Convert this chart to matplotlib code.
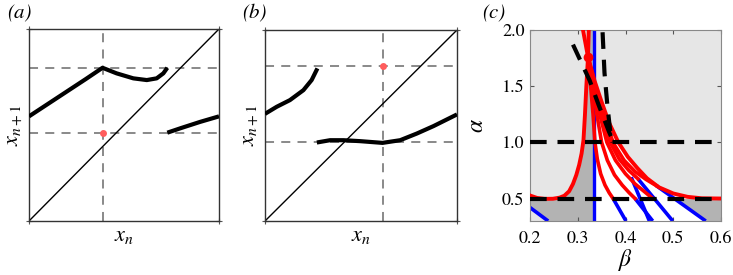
import numpy as np
import matplotlib
matplotlib.use("Agg")
import matplotlib.pyplot as plt

plt.rcParams['mathtext.fontset'] = 'stix'
plt.rcParams['font.family'] = ['STIXGeneral', 'Liberation Serif', 'DejaVu Serif']

# === panel (a): return map ===
a_branch1_x = [0.0, 0.1, 0.2, 0.3, 0.387, 0.461, 0.549, 0.62, 0.672, 0.707, 0.728]
a_branch1_y = [0.545, 0.61, 0.675, 0.74, 0.798, 0.769, 0.743, 0.734, 0.743, 0.769, 0.798]
a_branch2_x = [0.728, 0.8, 0.9, 1.0]
a_branch2_y = [0.46, 0.484, 0.516, 0.545]
a_vline = 0.387
a_hlines = [0.798, 0.46]
a_dot = (0.387, 0.46)

# === panel (b): return map ===
b_branch1_x = [0.0, 0.061, 0.13, 0.2, 0.243, 0.273]
b_branch1_y = [0.561, 0.598, 0.633, 0.685, 0.738, 0.799]
b_branch2_x = [0.27, 0.339, 0.409, 0.496, 0.612, 0.704, 0.791, 0.878, 1.0]
b_branch2_y = [0.411, 0.423, 0.423, 0.418, 0.409, 0.423, 0.458, 0.497, 0.558]
b_vline = 0.612
b_hlines = [0.811, 0.411]
b_dot = (0.612, 0.811)

# === panel (c): bifurcation diagram in (beta, alpha) ===
left_beta = [0.2, 0.215, 0.231, 0.248, 0.262, 0.272, 0.282, 0.29, 0.297, 0.303, 0.308, 0.312, 0.315, 0.318, 0.3215, 0.323]
left_alpha = [0.527, 0.505, 0.497, 0.498, 0.508, 0.525, 0.565, 0.63, 0.71, 0.80, 0.90, 1.02, 1.24, 1.5, 1.76, 2.0]

outer_beta = [0.311, 0.3215, 0.335, 0.35, 0.365, 0.385, 0.405, 0.425, 0.445, 0.47, 0.5, 0.53, 0.56, 0.6]
outer_alpha = [2.0, 1.76, 1.55, 1.36, 1.18, 1.0, 0.87, 0.77, 0.68, 0.6, 0.545, 0.515, 0.502, 0.50]

fan_beta = [
    [0.3215, 0.327, 0.332, 0.336, 0.341, 0.348, 0.357, 0.366, 0.374],
    [0.3215, 0.331, 0.34, 0.35, 0.362, 0.377, 0.393, 0.408, 0.42],
    [0.3215, 0.334, 0.346, 0.361, 0.379, 0.4, 0.42, 0.44, 0.457],
    [0.3215, 0.337, 0.352, 0.368, 0.387, 0.407, 0.426],
    [0.3215, 0.34, 0.357, 0.375, 0.397, 0.42, 0.443, 0.464],
]
fan_alpha = [
    [1.76, 1.5, 1.25, 1.0, 0.85, 0.72, 0.62, 0.55, 0.5],
    [1.76, 1.5, 1.25, 1.0, 0.84, 0.71, 0.62, 0.55, 0.5],
    [1.76, 1.5, 1.25, 1.0, 0.84, 0.72, 0.63, 0.56, 0.5],
    [1.76, 1.45, 1.22, 1.0, 0.85, 0.75, 0.676],
    [1.76, 1.45, 1.2, 0.99, 0.84, 0.74, 0.67, 0.616],
]

blue_beta = [[0.2, 0.238], [0.374, 0.401], [0.412, 0.45], [0.42, 0.457], [0.426, 0.499], [0.464, 0.568]]
blue_alpha = [[0.42, 0.3], [0.5, 0.3], [0.69, 0.3], [0.5, 0.3], [0.676, 0.3], [0.616, 0.3]]
beta_c = 1 / 3

dash1_beta = [0.29, 0.325, 0.344, 0.365, 0.375]
dash1_alpha = [1.87, 1.55, 1.33, 1.10, 1.0]
dash2_beta = [0.352, 0.356, 0.362, 0.368, 0.373]
dash2_alpha = [1.98, 1.62, 1.33, 1.1, 1.0]
alpha_levels = [1.0, 0.5]
cusp = (0.3215, 1.76)

fig = plt.figure(figsize=(7.33, 2.75), dpi=100)
W, H = 733, 275


def box(x0, y0, x1, y1):
    return [x0 / W, 1 - y1 / H, (x1 - x0) / W, (y1 - y0) / H]


def map_panel(ax, br1, br2, vline, hlines, dot):
    ax.plot([0, 1], [0, 1], color='black', lw=1.0, zorder=2)
    ax.axvline(vline, color='#808080', lw=1.3, dashes=(5, 4), zorder=1)
    for h in hlines:
        ax.axhline(h, color='#808080', lw=1.3, dashes=(5, 4), zorder=1)
    ax.plot(*br1, color='black', lw=3.0, solid_capstyle='butt', zorder=3)
    ax.plot(*br2, color='black', lw=3.0, solid_capstyle='butt', zorder=3)
    ax.plot(*dot, 'o', color='#ff5c5c', ms=5, mec='none', zorder=4)
    ax.set_xlim(0, 1)
    ax.set_ylim(0, 1)
    ax.set_xticks([0, 1])
    ax.set_yticks([0, 1])
    ax.tick_params(direction='inout', length=4, width=0.8, color='#555555',
                   labelbottom=False, labelleft=False, top=True, right=True)
    for s in ax.spines.values():
        s.set_color('#333333')
        s.set_linewidth(1.0)
    ax.set_xlabel(r'$x_n$', fontsize=16, labelpad=2)
    ax.set_ylabel(r'$x_{n+1}$', fontsize=16, labelpad=1)


ax_a = fig.add_axes(box(29, 29, 219, 221))
map_panel(ax_a, (a_branch1_x, a_branch1_y), (a_branch2_x, a_branch2_y), a_vline, a_hlines, a_dot)
ax_b = fig.add_axes(box(265, 30, 457, 221))
map_panel(ax_b, (b_branch1_x, b_branch1_y), (b_branch2_x, b_branch2_y), b_vline, b_hlines, b_dot)

# === panel (c) ===
ax = fig.add_axes(box(530, 30, 721, 221))
ax.set_facecolor('#e6e6e6')
dark = '#b3b3b3'

# dark region left of beta_c under the left red curve
poly_x = left_beta + [beta_c, beta_c, blue_beta[0][1], blue_beta[0][0]]
poly_y = left_alpha + [2.0, 0.3, blue_alpha[0][1], blue_alpha[0][0]]
ax.fill(poly_x, poly_y, color=dark, lw=0, zorder=1)

# white region under the outer red curve
ob = np.array(outer_beta)
oa = np.array(outer_alpha)
keep = ob >= beta_c
wx = [beta_c] + list(ob[keep]) + [0.6, beta_c]
wy = [float(np.interp(beta_c, ob, oa))] + list(oa[keep]) + [0.3, 0.3]
ax.fill(wx, wy, color='white', lw=0, zorder=1)

# dark region bottom right
e0b, e1b = blue_beta[-1]
e0a, e1a = blue_alpha[-1]
b_at_half = e0b + (e0a - 0.5) / (e0a - e1a) * (e1b - e0b)
ax.fill([b_at_half, 0.6, 0.6, e1b], [0.5, 0.5, 0.3, 0.3], color=dark, lw=0, zorder=1)

for bb, aa in zip(blue_beta, blue_alpha):
    ax.plot(bb, aa, color='#0000ff', lw=2.6, solid_capstyle='butt', zorder=2)
ax.axvline(beta_c, color='#0000ff', lw=2.4, zorder=2)

ax.plot(left_beta, left_alpha, color='#ff0000', lw=2.8, zorder=3)
ax.plot(outer_beta, outer_alpha, color='#ff0000', lw=2.8, zorder=3)
for bb, aa in zip(fan_beta, fan_alpha):
    ax.plot(bb, aa, color='#ff0000', lw=2.6, zorder=3)

for lvl in alpha_levels:
    ax.axhline(lvl, color='black', lw=3, dashes=(4, 2.6), zorder=4)
ax.plot(dash1_beta, dash1_alpha, color='black', lw=3, dashes=(4, 2.6), zorder=4)
ax.plot(dash2_beta, dash2_alpha, color='black', lw=3, dashes=(4, 2.6), zorder=4)
ax.plot(*cusp, 'o', color='#ff0000', ms=7, mec='none', zorder=5)

ax.set_xlim(0.2, 0.6)
ax.set_ylim(0.3, 2.0)
ax.set_xticks([0.2, 0.3, 0.4, 0.5, 0.6])
ax.set_yticks([0.5, 1.0, 1.5, 2.0])
ax.set_xticklabels(['0.2', '0.3', '0.4', '0.5', '0.6'])
ax.set_yticklabels(['0.5', '1.0', '1.5', '2.0'])
ax.tick_params(direction='in', length=3, width=0.8, color='#555555',
               labelsize=13, top=True, right=True)
ax.tick_params(axis='x', pad=7)
ax.tick_params(axis='y', pad=4)
for s in ax.spines.values():
    s.set_color('#888888')
    s.set_linewidth(0.8)
ax.set_xlabel(r'$\beta$', fontsize=17, labelpad=0)
ax.set_ylabel(r'$\alpha$', fontsize=17, labelpad=10)

# === panel tags ===
for x, tag in [(7, '(a)'), (242, '(b)'), (482, '(c)')]:
    fig.text(x / W, 1 - 13 / H, tag, fontsize=15, style='italic', va='center')

fig.savefig('out.png', dpi=100)
